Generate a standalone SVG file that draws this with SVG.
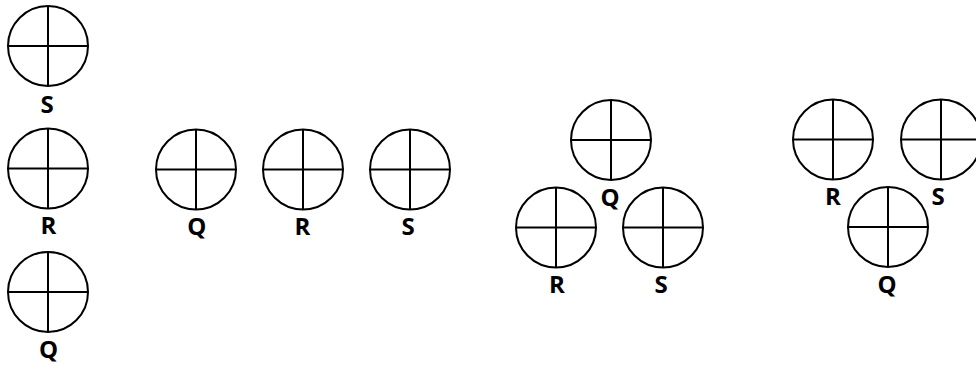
<svg xmlns="http://www.w3.org/2000/svg" width="976" height="365" viewBox="0 0 976 365">
<defs>
<style>
.c{fill:none;stroke:#000;stroke-width:2}
.l{stroke:#000;stroke-width:2}
.t{font-family:"Open Sans","Liberation Sans",Arial,sans-serif;font-weight:bold;font-size:24px;text-anchor:middle;fill:#000}
</style>
<g id="dial">
<circle class="c" cx="0" cy="0" r="40"/>
<line class="l" x1="-40" y1="0" x2="40" y2="0"/>
<line class="l" x1="0" y1="-40" x2="0" y2="40"/>
</g>
</defs>
<g id="col-S"><use href="#dial" x="48" y="46"/><text class="t" x="47" y="112.5">S</text></g>
<g id="col-R"><use href="#dial" x="48" y="168.5"/><text class="t" x="48.5" y="234">R</text></g>
<g id="col-Q"><use href="#dial" x="48" y="292"/><text class="t" x="48.5" y="357.5">Q</text></g>
<g id="row-Q"><use href="#dial" x="196" y="169.5"/><text class="t" x="196.7" y="235">Q</text></g>
<g id="row-R"><use href="#dial" x="303" y="169.5"/><text class="t" x="302.5" y="235">R</text></g>
<g id="row-S"><use href="#dial" x="410" y="169.5"/><text class="t" x="408" y="235">S</text></g>
<g id="tri1-Q"><use href="#dial" x="611" y="140"/><text class="t" x="610" y="205.5">Q</text></g>
<g id="tri1-R"><use href="#dial" x="556" y="227.5"/><text class="t" x="557" y="293">R</text></g>
<g id="tri1-S"><use href="#dial" x="663" y="227.5"/><text class="t" x="661" y="293">S</text></g>
<g id="tri2-R"><use href="#dial" x="833" y="139.5"/><text class="t" x="833" y="205">R</text></g>
<g id="tri2-S"><use href="#dial" x="941" y="139.5"/><text class="t" x="938" y="205">S</text></g>
<g id="tri2-Q"><use href="#dial" x="888" y="227"/><text class="t" x="887" y="292.5">Q</text></g>
<g id="connectors"></g>
</svg>
